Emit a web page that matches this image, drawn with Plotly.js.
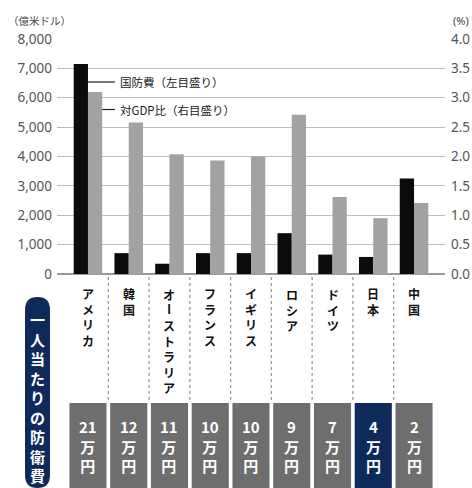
<!DOCTYPE html>
<html>
<head>
<meta charset="utf-8">
<script src="https://cdn.plot.ly/plotly-3.0.1.min.js"></script>
<style>
  html, body { margin: 0; padding: 0; background: #fff; }
  #chart { width: 472px; height: 488px; }
</style>
</head>
<body>
<div id="chart"></div>
<script>
// Countries, in drawing order
const countries = ['アメリカ', '韓国', 'オーストラリア', 'フランス', 'イギリス', 'ロシア', 'ドイツ', '日本', '中国'];
// Defence spending (100 million US$) – left scale
const spending = [7150, 710, 350, 710, 710, 1390, 660, 580, 3250];
// Share of GDP (%) – right scale
const gdpShare = [3.1, 2.58, 2.04, 1.93, 2.0, 2.71, 1.31, 0.95, 1.21];
// Spending per person (万円)
const perPerson = [21, 12, 11, 10, 10, 9, 7, 4, 2];
const highlight = '日本';

const leftTicks = [0, 1000, 2000, 3000, 4000, 5000, 6000, 7000, 8000];
const rightTicks = [0, 0.5, 1.0, 1.5, 2.0, 2.5, 3.0, 3.5, 4.0];

const W = 472, H = 488;
const M = { l: 57, r: 27, t: 39, b: 214 };
const plotH = H - M.t - M.b;
const plotW = W - M.l - M.r;
const NAVY = '#0e2a5a';
const BOX_GREY = '#6e6e6e';
const JP = '"Noto Sans CJK JP", "Noto Sans", sans-serif';
const LINE = 1.3; // plotly line spacing for <br> text, in em

// pixel -> paper helpers for decorations outside the plot area
const py = v => (H - M.b - v) / plotH;
const pxp = v => (v - M.l) / plotW;

const idx = countries.map((_, i) => i);

const traces = [
  {
    type: 'bar', x: idx, y: spending, yaxis: 'y',
    width: 0.35, offset: -0.35,
    marker: { color: '#0b0b0b' }, hoverinfo: 'skip'
  },
  {
    type: 'bar', x: idx, y: gdpShare, yaxis: 'y2',
    width: 0.35, offset: 0,
    marker: { color: '#a2a2a2' }, hoverinfo: 'skip'
  }
];

const annotations = [];
const shapes = [];

// unit labels
annotations.push({ xref: 'paper', yref: 'paper', x: pxp(6), y: py(20), xanchor: 'left', yanchor: 'middle',
  text: '（億米ドル）', showarrow: false, font: { family: JP, size: 10.5, color: '#444' } });
annotations.push({ xref: 'paper', yref: 'paper', x: pxp(451), y: py(21), xanchor: 'left', yanchor: 'middle',
  text: '(%)', showarrow: false, font: { family: '"Noto Sans", sans-serif', size: 11, color: '#444' } });

// series callouts
const calloutY1 = 82, calloutY2 = 109.5;
annotations.push({ xref: 'paper', yref: 'paper', x: pxp(118), y: py(calloutY1), xanchor: 'left', yanchor: 'middle',
  text: '国防費（左目盛り）', showarrow: false, font: { family: JP, size: 11.5, color: '#1a1a1a' } });
annotations.push({ xref: 'paper', yref: 'paper', x: pxp(118), y: py(calloutY2), xanchor: 'left', yanchor: 'middle',
  text: '対GDP比（右目盛り）', showarrow: false, font: { family: JP, size: 11.5, color: '#1a1a1a' } });
shapes.push({ type: 'line', xref: 'x', yref: 'paper', x0: 0, x1: 0.66, y0: py(calloutY1), y1: py(calloutY1),
  line: { color: '#222', width: 1.2 } });
shapes.push({ type: 'line', xref: 'x', yref: 'paper', x0: 0.35, x1: 0.66, y0: py(calloutY2), y1: py(calloutY2),
  line: { color: '#222', width: 1.2 } });

// vertical country names: runs of characters stacked with <br>,
// the long-vowel mark turned upright as in vertical writing
const nameSize = 12;
const pitch = nameSize * LINE;
const firstCenter = 294;
countries.forEach((name, i) => {
  const chars = Array.from(name);
  let k = 0;
  while (k < chars.length) {
    if (chars[k] === 'ー') {
      annotations.push({ xref: 'x', yref: 'paper', x: i, y: py(firstCenter + k * pitch),
        xanchor: 'center', yanchor: 'middle', showarrow: false, text: 'ー', textangle: 90,
        font: { family: JP, size: nameSize, color: '#111', weight: 'bold' } });
      k++;
      continue;
    }
    let e = k;
    while (e < chars.length && chars[e] !== 'ー') e++;
    const run = chars.slice(k, e);
    annotations.push({ xref: 'x', yref: 'paper', x: i,
      y: py(firstCenter + (k + (run.length - 1) / 2) * pitch),
      xanchor: 'center', yanchor: 'middle', showarrow: false, text: run.join('<br>'),
      font: { family: JP, size: nameSize, color: '#111', weight: 'bold' } });
    k = e;
  }
});

// dotted separators between countries
for (let i = 0; i < countries.length - 1; i++) {
  shapes.push({ type: 'line', xref: 'x', yref: 'paper', x0: i + 0.5, x1: i + 0.5, y0: py(277), y1: py(403),
    line: { color: '#9a9a9a', width: 1.3, dash: 'dot' } });
}

// per-person boxes
countries.forEach((name, i) => {
  shapes.push({ type: 'rect', xref: 'x', yref: 'paper', x0: i - 0.455, x1: i + 0.455, y0: py(403), y1: py(H + 2),
    fillcolor: name === highlight ? NAVY : BOX_GREY, line: { width: 0 }, layer: 'below' });
  annotations.push({ xref: 'x', yref: 'paper', x: i, y: py(446), xanchor: 'center', yanchor: 'middle',
    showarrow: false, text: [String(perPerson[i]), '万', '円'].join('<br>'),
    font: { family: JP, size: 15, color: '#fff', weight: 'bold' } });
});

// side label: rounded navy tab with vertical text
{
  const x0 = pxp(25), x1 = pxp(50), xm = pxp(37.5);
  const yTop = py(297), yTopC = py(310), yBot = py(488), yBotC = py(475);
  const path = `M ${x0} ${yTopC} Q ${x0} ${yTop} ${xm} ${yTop} Q ${x1} ${yTop} ${x1} ${yTopC} ` +
               `L ${x1} ${yBotC} Q ${x1} ${yBot} ${xm} ${yBot} Q ${x0} ${yBot} ${x0} ${yBotC} Z`;
  shapes.push({ type: 'path', xref: 'paper', yref: 'paper', path, fillcolor: NAVY, line: { width: 0 } });
  const label = Array.from('一人当たりの防衛費');
  const sideSize = 15;
  annotations.push({ xref: 'paper', yref: 'paper', x: xm,
    y: py(320 + (label.length - 1) / 2 * sideSize * LINE), xanchor: 'center', yanchor: 'middle',
    showarrow: false, text: label.join('<br>'),
    font: { family: JP, size: sideSize, color: '#fff', weight: 'bold' } });
}

const layout = {
  width: W, height: H,
  margin: M,
  paper_bgcolor: '#fff', plot_bgcolor: '#fff',
  showlegend: false,
  xaxis: {
    type: 'linear', range: [-0.76, 8.76], showticklabels: false, ticks: '',
    showgrid: false, zeroline: false, showline: false, fixedrange: true
  },
  yaxis: {
    range: [0, 8000], tickvals: leftTicks, tickformat: ',', ticks: '',
    showgrid: true, gridcolor: '#bdbdbd', gridwidth: 1,
    zeroline: true, zerolinecolor: '#9a9a9a', zerolinewidth: 1.2,
    showline: false, ticklabelstandoff: 4,
    tickfont: { family: '"Noto Sans", sans-serif', size: 13.5, color: '#555' }
  },
  yaxis2: {
    range: [0, 4], tickvals: rightTicks, tickformat: '.1f', ticks: '',
    overlaying: 'y', side: 'right', showgrid: false, zeroline: false, showline: false,
    ticklabelstandoff: 5,
    tickfont: { family: '"Noto Sans", sans-serif', size: 13.5, color: '#555' }
  },
  annotations, shapes
};

Plotly.newPlot('chart', traces, layout, { staticPlot: true, displayModeBar: false });
</script>
</body>
</html>
